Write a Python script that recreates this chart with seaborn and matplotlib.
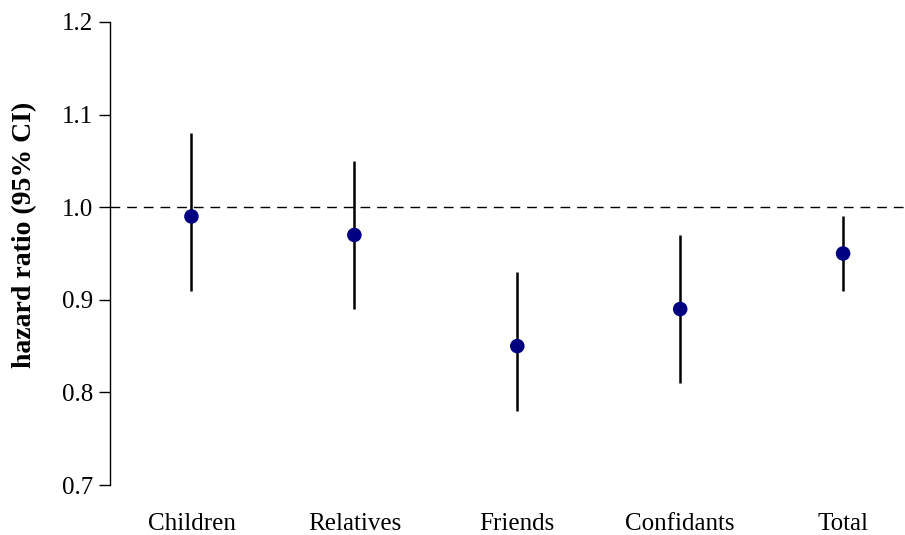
import matplotlib
matplotlib.use("Agg")
import matplotlib.pyplot as plt
import seaborn as sns
import pandas as pd

# Hazard ratios with 95% confidence intervals by type of social tie
categories = ["Children", "Relatives", "Friends", "Confidants", "Total"]
hazard_ratio = [0.99, 0.97, 0.85, 0.89, 0.95]
ci_lower = [0.91, 0.89, 0.78, 0.81, 0.91]
ci_upper = [1.08, 1.05, 0.93, 0.97, 0.99]
y_ticks = [0.7, 0.8, 0.9, 1.0, 1.1, 1.2]

df = pd.DataFrame({"tie": categories, "hr": hazard_ratio,
                   "lo": ci_lower, "hi": ci_upper})

sns.set_style("white")
plt.rcParams["font.family"] = ["Liberation Serif", "DejaVu Serif"]
plt.rcParams["text.color"] = "black"
plt.rcParams["axes.labelcolor"] = "black"

fig = plt.figure(figsize=(9.05, 5.35), dpi=100)
ax = fig.add_axes([110 / 905, 1 - 485 / 535, 1 - 110 / 905, (485 - 22) / 535])

# reference line at HR = 1
ax.axhline(1.0, color="black", linewidth=1.0, linestyle=(0, (7, 5)), zorder=1)

# confidence intervals
ax.vlines(range(len(df)), df["lo"], df["hi"], color="black", linewidth=1.8, zorder=2)

# point estimates
sns.scatterplot(x=range(len(df)), y=df["hr"], ax=ax, color="#000080",
                s=110, edgecolor="none", zorder=3, legend=False)

ax.set_xlim(-0.5, 4.38)
ax.set_ylim(0.7, 1.2)
ax.set_yticks(y_ticks)
ax.set_yticklabels([f"{t:.1f}" for t in y_ticks])
ax.set_xticks(range(len(df)))
ax.set_xticklabels(categories)

for side in ["top", "right", "bottom"]:
    ax.spines[side].set_visible(False)
ax.spines["left"].set_color("black")
ax.spines["left"].set_linewidth(1.0)

ax.tick_params(axis="y", direction="out", length=8, width=1.0, colors="black",
               labelsize=18, pad=4, left=True)
ax.tick_params(axis="x", length=0, labelsize=18, pad=20, colors="black")

ax.set_xlabel("")
ax.set_ylabel("hazard ratio (95% CI)", fontsize=20, fontweight="bold", color="black")
ax.yaxis.set_label_coords(-0.092, 0.54)

fig.savefig("out.png", dpi=100)
